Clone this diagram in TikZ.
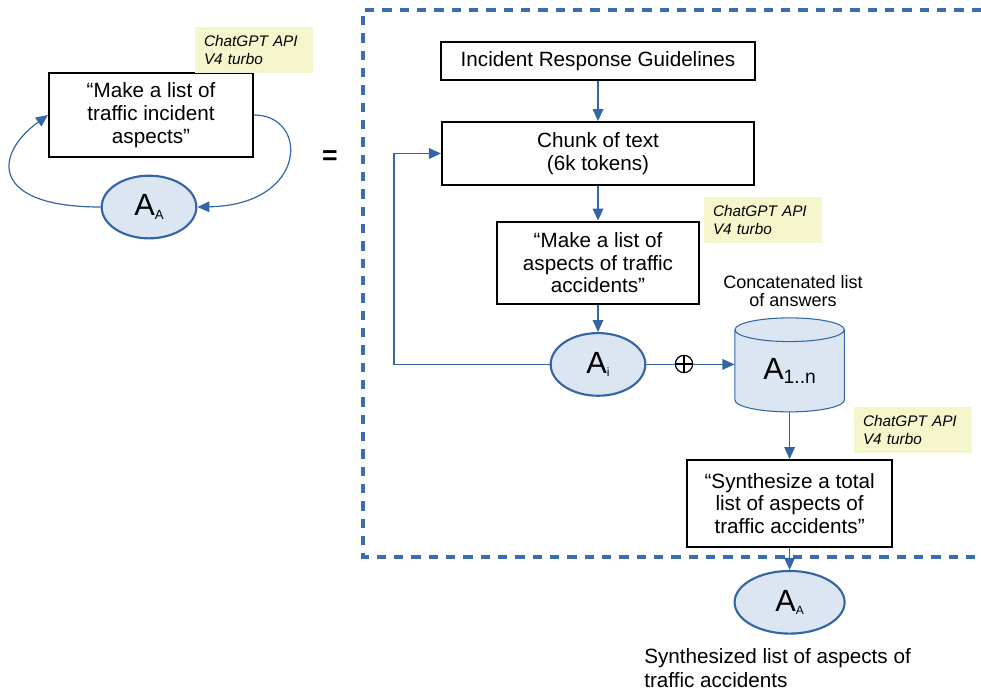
\documentclass[tikz,border=0pt]{standalone}
\usepackage{fontspec}
\setmainfont{Liberation Sans}
\usetikzlibrary{shapes.geometric,arrows.meta,positioning,calc}
\definecolor{lineblue}{HTML}{3465A4}
\definecolor{dashblue}{HTML}{3B6CB2}
\definecolor{ansfill}{HTML}{DCE6F2}
\definecolor{notefill}{HTML}{F6F6CC}
\tikzset{
    x=0.75pt, y=-0.75pt,
    prompt/.style={rectangle, draw=black, line width=1.6pt, align=center, font=\fontsize{15.5}{17}\selectfont, inner sep=2pt},
    answer/.style={ellipse, draw=lineblue, line width=1.6pt, fill=ansfill, minimum width=71pt, minimum height=47pt, inner sep=0pt},
    store/.style={cylinder, shape border rotate=90, aspect=0.45, draw=lineblue, line width=0.8pt, fill=ansfill, minimum width=82pt, minimum height=70.5pt, inner sep=0pt},
    note/.style={fill=notefill, align=left, font=\fontsize{11.5}{13.2}\selectfont\itshape, minimum width=89pt, minimum height=34pt, text width=75pt},
    conn/.style={-{Triangle[length=9pt,width=8pt]}, color=lineblue, line width=0.9pt},
    concat/.style={circle, draw=black, line width=0.9pt, minimum size=13pt, inner sep=0pt,
        path picture={\draw[line width=0.9pt] (path picture bounding box.north) -- (path picture bounding box.south)
            (path picture bounding box.west) -- (path picture bounding box.east);}},
    remark/.style={align=center, inner sep=0pt}
}
\newcommand{\ans}[2]{{\fontsize{23}{23}\selectfont A}\raisebox{-2.5pt}{\fontsize{#1}{#1}\selectfont #2}}

\begin{document}
\begin{tikzpicture}
    \useasboundingbox (0,0) rectangle (981,694);
    % left: the whole loop as one step
    \node[prompt, minimum width=153pt, minimum height=63pt] (askL) at (151,115) {“Make a list of\\traffic incident\\aspects”};
    \node[answer] (ansL) at (149,207) {\ans{10}{A}};
    \node[note] (noteL) at (254,50) {ChatGPT API\\V4 turbo};
    \draw[conn] (ansL.west) .. controls +(-110,0) and +(-55,40) .. (askL.west);
    \draw[conn] (askL.east) .. controls +(55,0) and +(111,-2) .. (ansL.east);
    \node[font=\fontsize{20}{20}\selectfont\bfseries] (eq) at (330,158) {=};
    % dashed frame
    \draw[dashblue, line width=2.3pt, dash pattern=on 7pt off 6pt] (981,10) -- (363,10) -- (363,557) -- (981,557);
    % right: chunk by chunk
    \node[prompt, minimum width=235pt, minimum height=28.5pt] (guide) at (598,61) {Incident Response Guidelines};
    \node[prompt, minimum width=234pt, minimum height=47pt, below=30pt of guide] (chunk) {Chunk of text\\(6k tokens)};
    \node[prompt, minimum width=151.5pt, minimum height=62pt, below=26pt of chunk] (askR) {“Make a list of\\aspects of traffic\\accidents”};
    \node[answer, below=20pt of askR] (ansI) {\ans{9}{i}};
    \node[note] (noteR) at (763,220) {ChatGPT API\\V4 turbo};
    \path[conn] (guide) edge (chunk);
    \path[conn] (chunk) edge (askR);
    \path[conn] (askR) edge (ansI);
    \coordinate (back) at (394,364);
    \draw[conn] (ansI.west) -- (ansI.west -| back) |- (chunk.west);
    % collect the answers
    \node[store, right=66pt of ansI, yshift=-5pt] (pool) {\ans{14.5}{1..n}};
    \node[remark, font=\fontsize{13.5}{14}\selectfont] (poolname) at (793,291) {Concatenated list\\of answers};
    \draw[conn] (ansI.east) -- (ansI.east -| pool.west);
    \node[concat] (plus) at (684,364) {};
    \node[prompt, minimum width=154pt, minimum height=65pt, below=35pt of pool] (synth) {“Synthesize a total\\list of aspects of\\traffic accidents”};
    \node[note] (noteS) at (913,430) {ChatGPT API\\V4 turbo};
    \node[answer, minimum width=82.5pt, below=16.5pt of synth] (ansA) {\ans{9}{A}};
    \path[conn] (pool) edge (synth);
    \path[conn] (synth) edge (ansA);
    \node[remark, align=left, anchor=north west, font=\fontsize{15.5}{18}\selectfont] (result) at (644,648) {Synthesized list of aspects of\\traffic accidents};
\end{tikzpicture}
\end{document}
